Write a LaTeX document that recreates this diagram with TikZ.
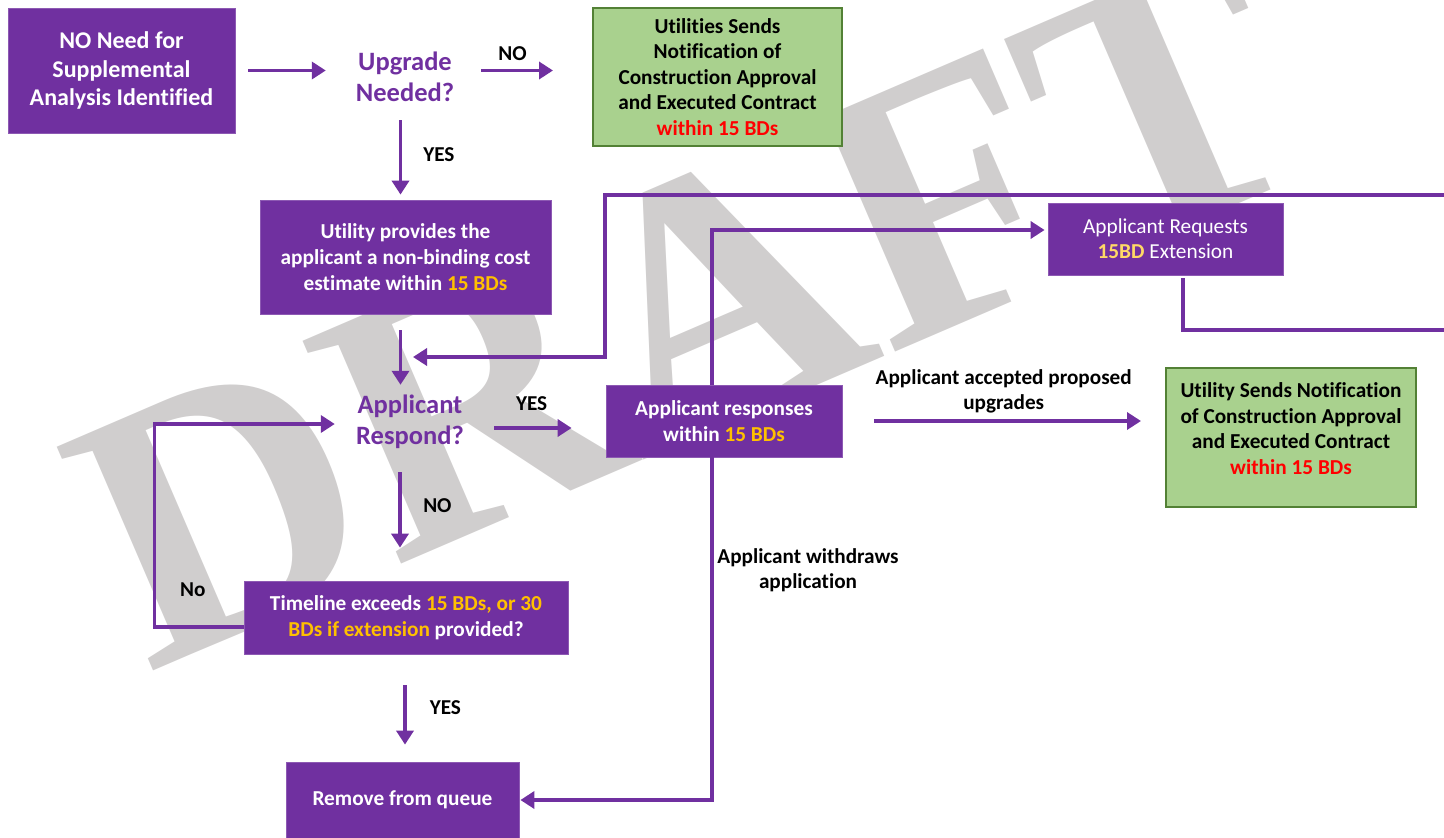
\documentclass[tikz,border=0pt]{standalone}
\usepackage{fontspec}
\setmainfont{Carlito}[Ligatures=NoCommon]
\newfontfamily\wmfont{Liberation Serif}
\usetikzlibrary{arrows.meta}

\definecolor{boxpurple}{HTML}{7030A0}
\definecolor{boxgreen}{HTML}{A9D18E}
\definecolor{greenline}{HTML}{538135}
\definecolor{bdyellow}{HTML}{FFC000}
\definecolor{extyellow}{HTML}{FFD966}
\definecolor{bdred}{HTML}{FF0000}
\definecolor{wmgrey}{HTML}{D0CECE}

\tikzset{
	stepbox/.style={fill=boxpurple, draw=boxpurple!80!white, line width=0.8pt, text=white,
		font=\fontsize{21.3}{26}\selectfont\bfseries, align=center, inner sep=0pt},
	donebox/.style={fill=boxgreen, draw=greenline, line width=2pt, text=black,
		font=\fontsize{21.3}{25.6}\selectfont\bfseries, align=center, inner sep=0pt},
	question/.style={text=boxpurple, font=\fontsize{26.5}{31}\selectfont\bfseries, align=center,
		minimum width=140pt, minimum height=66pt, inner sep=0pt},
	answer/.style={font=\fontsize{21.2}{25}\selectfont\bfseries, align=center, inner sep=0pt},
	flow/.style={draw=boxpurple, line width=3.5pt, -{Triangle[length=14pt,width=17pt]}},
	wire/.style={draw=boxpurple, line width=3.5pt},
}

\begin{document}
\begin{tikzpicture}[x=1pt, y=-1pt]
	\useasboundingbox (0,0) rectangle (1444,838);
	% The watermark
	\node[text=wmgrey, font=\wmfont\bfseries\fontsize{372}{372}\selectfont, inner sep=0pt,
		anchor=base west, rotate=23.3] (draft) at (147,674) {DRAFT};
	% The steps
	\node[stepbox, minimum width=227pt, minimum height=125pt, font=\fontsize{24}{28.5}\selectfont\bfseries]
		(noneed) at (121.5,70.5) {NO Need for\\Supplemental\\Analysis Identified};
	\node[question] (upgrade) at (405,77) {Upgrade\\Needed?};
	\node[donebox, minimum width=249pt, minimum height=138pt] (approval) at (717.5,77)
		{Utilities Sends\\Notification of\\Construction Approval\\and Executed Contract\\\textcolor{bdred}{within 15 BDs}};
	\node[stepbox, minimum width=291pt, minimum height=114pt] (estimate) at (405.5,257)
		{Utility provides the\\applicant a non-binding cost\\estimate within \textcolor{bdyellow}{15 BDs}};
	\node[stepbox, minimum width=235pt, minimum height=72pt, font=\fontsize{21.3}{25}\selectfont]
		(extension) at (1165.5,239) {Applicant Requests\\\textbf{\textcolor{extyellow}{15BD}} Extension};
	\node[question] (respond) at (410,422) {Applicant\\Respond?};
	\node[stepbox, minimum width=236pt, minimum height=72pt] (responses) at (724,421)
		{Applicant responses\\within \textcolor{bdyellow}{15 BDs}};
	\node[donebox, minimum width=250pt, minimum height=139pt] (contract) at (1291,437.5)
		{Utility Sends Notification\\of Construction Approval\\and Executed Contract\\\textcolor{bdred}{within 15 BDs}\\[-8pt]\mbox{}};
	\node[stepbox, minimum width=324pt, minimum height=73pt] (timeline) at (406,617.5)
		{Timeline exceeds \textcolor{bdyellow}{15 BDs, or 30}\\\textcolor{bdyellow}{BDs if extension} provided?};
	\node[stepbox, minimum width=233pt, minimum height=76pt] (remove) at (402.5,800) {Remove from queue};
	\node[answer] (withdraw) at (808,570) {Applicant withdraws\\application};
	% Loose ends at the right border
	\coordinate (edgeA) at (1444,195);
	\coordinate (edgeB) at (1444,330);
	\coordinate (backin) at (413,357);
	\coordinate (loopcorner) at (605,357);
	% The connectors
	\draw[flow, shorten <=13pt, shorten >=9pt] (noneed.east) -- (noneed.east -| upgrade.west);
	\draw[flow, shorten <=6pt, shorten >=39pt] (upgrade.east |- noneed.east) -- node[answer, pos=0.32, above=8.5pt] (no1) {NO} (noneed.east -| approval.west);
	\draw[flow, shorten <=10pt, shorten >=5pt] ([xshift=-5pt]estimate.north |- upgrade.south) -- node[answer, right=21pt] (yes1) {YES} ([xshift=-5pt]estimate.north);
	\draw[flow, shorten <=16pt, shorten >=4pt] ([xshift=-5pt]estimate.south) -- ([xshift=-5pt]estimate.south |- respond.north);
	\draw[flow] (edgeA) -| (loopcorner) -- (backin);
	\draw[wire, shorten <=3pt] ([xshift=17.5pt]extension.south) |- (edgeB);
	\draw[flow, shorten >=3pt] ([xshift=-12pt]responses.north) |- ([yshift=9pt]extension.west);
	\draw[flow, shorten >=1pt] ([xshift=-12pt]responses.south) |- (remove.east);
	\draw[flow, shorten <=14pt, shorten >=34pt] ([yshift=-6pt]respond.east) -- node[answer, pos=0.41, above=16pt] (yes2) {YES} ([yshift=-6pt]respond.east -| responses.west);
	\draw[flow, shorten <=32pt, shorten >=24pt] (responses.east) -- node[answer, above=6pt] (accepted) {Applicant accepted proposed\\upgrades} (responses.east -| contract.west);
	\draw[flow, shorten <=17pt, shorten >=33pt] ([xshift=-10pt]respond.south) -- node[answer, pos=0.4, right=21.5pt] (no2) {NO} ([xshift=-10pt]respond.south |- timeline.north);
	\draw[flow, shorten >=5pt] ([yshift=-9.5pt]timeline.west) -- node[answer, pos=0.57, above=28.5pt] (no3) {No} ++(-89,0) |- ([yshift=-2pt]respond.west);
	\draw[flow, shorten <=31pt, shorten >=17pt] ([xshift=-1pt]timeline.south) -- node[answer, right=23pt] (yes3) {YES} ([xshift=-1pt]timeline.south |- remove.north);
\end{tikzpicture}
\end{document}
